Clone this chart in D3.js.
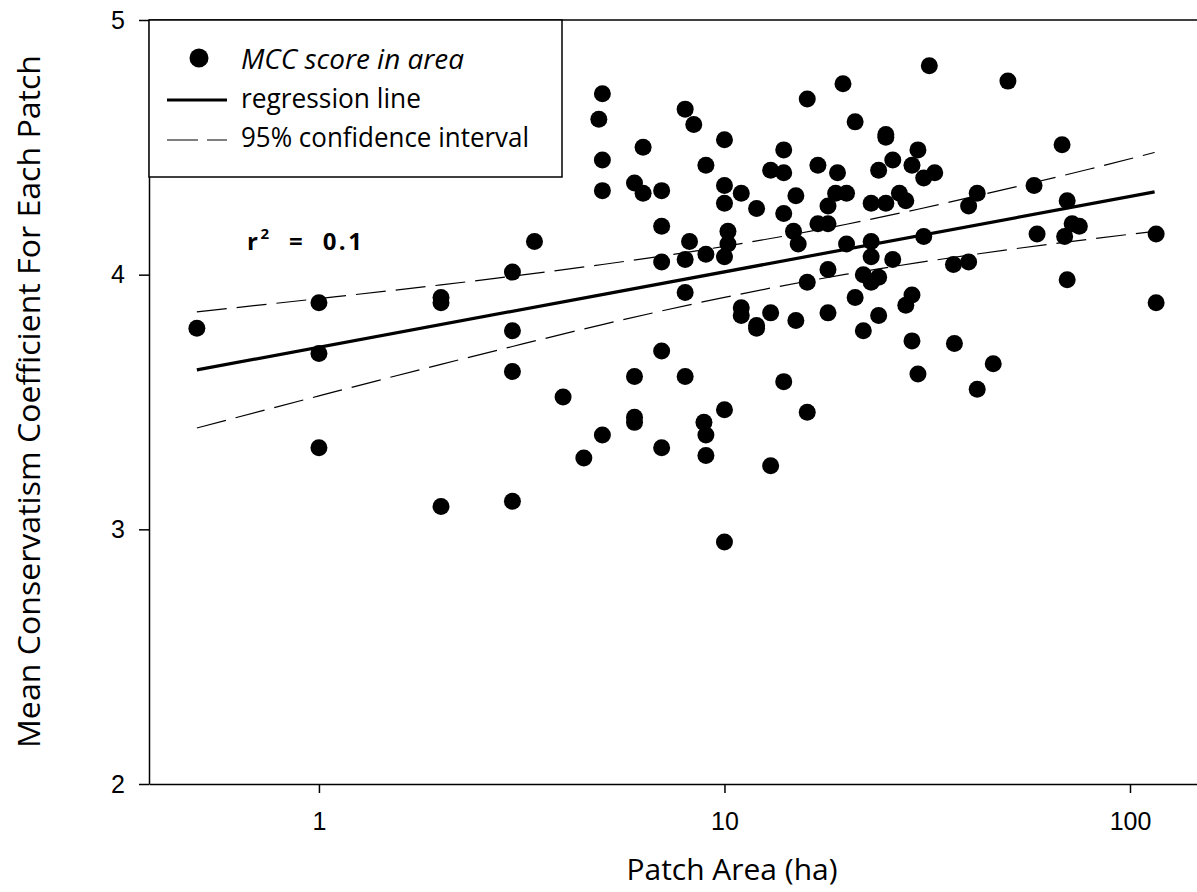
<!DOCTYPE html>
<html>
<head>
<meta charset="utf-8">
<script src="https://cdn.jsdelivr.net/npm/d3@7"></script>
<style>
  body { margin: 0; background: #fff; }
  .comic { font-family: "Comic Sans MS", "Open Sans", sans-serif; }
  .tick text { font-family: "Liberation Sans", Arial, sans-serif; }
</style>
</head>
<body>
<div id="chart"></div>
<script>
// patch area (ha) and mean conservatism coefficient
const areaHa = [0.5, 1, 1, 1, 2, 2, 2, 3, 3, 3, 3, 3.4, 4, 4.5, 4.9, 5, 5, 5, 5,
  6, 6, 6, 6, 6.3, 6.3, 7, 7, 7, 7, 7, 8, 8, 8, 8, 8.2, 8.4, 9, 9, 8.9, 9, 9,
  10, 10, 10, 10, 10, 10, 10.2, 10.2, 11, 11, 11, 12, 12, 12, 13, 13, 13,
  14, 14, 14, 14, 14.8, 15, 15, 15.2, 16, 16, 16, 17, 17, 18, 18, 18, 18,
  18.8, 19, 19.6, 20, 20, 21, 21, 22, 22, 23, 23, 23, 23, 24, 24, 24,
  25, 25, 25, 26, 26, 27, 28, 28, 29, 29, 29, 30, 30, 31, 31, 32, 33,
  36.7, 36.9, 40, 40, 42, 42, 46, 50, 58, 59, 68, 69, 70, 70, 72, 75, 116, 116];
const mccScore = [3.79, 3.89, 3.69, 3.32, 3.91, 3.89, 3.09, 4.01, 3.78, 3.62, 3.11, 4.13, 3.52, 3.28, 4.61, 4.71, 4.45, 4.33, 3.37,
  4.36, 3.60, 3.44, 3.42, 4.50, 4.32, 4.33, 4.19, 4.05, 3.70, 3.32, 4.65, 4.06, 3.93, 3.60, 4.13, 4.59, 4.43, 4.08, 3.42, 3.37, 3.29,
  4.53, 4.35, 4.28, 4.07, 3.47, 2.95, 4.17, 4.12, 4.32, 3.87, 3.84, 4.26, 3.80, 3.79, 4.41, 3.85, 3.25,
  4.49, 4.40, 4.24, 3.58, 4.17, 4.31, 3.82, 4.12, 4.69, 3.97, 3.46, 4.43, 4.20, 4.27, 4.20, 4.02, 3.85,
  4.32, 4.40, 4.75, 4.12, 4.32, 4.60, 3.91, 3.78, 4.00, 4.28, 4.13, 4.07, 3.97, 4.41, 3.99, 3.84,
  4.55, 4.54, 4.28, 4.45, 4.06, 4.32, 3.88, 4.29, 4.43, 3.92, 3.74, 4.49, 3.61, 4.15, 4.38, 4.82, 4.40,
  4.04, 3.73, 4.05, 4.27, 4.32, 3.55, 3.65, 4.76, 4.35, 4.16, 4.51, 4.15, 4.29, 3.98, 4.20, 4.19, 4.16, 3.89];

// regression line end points
const regX = [0.5, 115];
const regY = [3.626, 4.325];

// 95% confidence band, read at a few areas
const ciX = [0.5, 1, 2, 3, 5, 10, 20, 30, 50, 80, 115];
const ciUpper = [3.854, 3.906, 3.960, 3.994, 4.040, 4.111, 4.198, 4.257, 4.338, 4.416, 4.480];
const ciLower = [3.398, 3.524, 3.648, 3.718, 3.804, 3.911, 4.002, 4.047, 4.098, 4.140, 4.170];

const xTicks = [1, 10, 100];
const yTicks = [2, 3, 4, 5];

const width = 1197;
const height = 892;
const margin = { top: 20, right: 0, bottom: 108, left: 149 };

const svg = d3.select("#chart").append("svg")
  .attr("width", width)
  .attr("height", height);

const x = d3.scaleLog()
  .domain([0.381, 146.3])
  .range([margin.left, width - margin.right]);

const y = d3.scaleLinear()
  .domain([2, 5])
  .range([height - margin.bottom, margin.top]);

// axes
const xAxis = svg.append("g")
  .attr("transform", `translate(0,${height - margin.bottom})`)
  .call(d3.axisBottom(x).tickValues(xTicks).tickFormat(d3.format("d"))
    .tickSize(9).tickSizeOuter(0).tickPadding(19));

const yAxis = svg.append("g")
  .attr("transform", `translate(${margin.left},0)`)
  .call(d3.axisLeft(y).tickValues(yTicks).tickFormat(d3.format("d"))
    .tickSize(10).tickSizeOuter(0).tickPadding(14));

[xAxis, yAxis].forEach(g => {
  g.selectAll("path, line").attr("stroke", "#000").attr("stroke-width", 1.5);
  g.selectAll("text").attr("font-size", 25).attr("fill", "#000");
});

// top frame line
svg.append("line")
  .attr("x1", margin.left).attr("x2", width)
  .attr("y1", y(5)).attr("y2", y(5))
  .attr("stroke", "#000").attr("stroke-width", 1.5);

// confidence band
const ciLine = (vals) => d3.line()
  .x((d, i) => x(ciX[i]))
  .y(d => y(d))
  .curve(d3.curveMonotoneX)(vals);

[ciUpper, ciLower].forEach(vals => {
  svg.append("path")
    .attr("d", ciLine(vals))
    .attr("fill", "none")
    .attr("stroke", "#000")
    .attr("stroke-width", 1.2)
    .attr("stroke-dasharray", "30,10");
});

// regression line
svg.append("line")
  .attr("x1", x(regX[0])).attr("y1", y(regY[0]))
  .attr("x2", x(regX[1])).attr("y2", y(regY[1]))
  .attr("stroke", "#000")
  .attr("stroke-width", 3.2);

// points
svg.append("g")
  .selectAll("circle")
  .data(areaHa)
  .join("circle")
  .attr("cx", d => x(d))
  .attr("cy", (d, i) => y(mccScore[i]))
  .attr("r", 8.5)
  .attr("fill", "#000");

// legend
const legend = svg.append("g").attr("class", "comic");
legend.append("rect")
  .attr("x", margin.left).attr("y", margin.top)
  .attr("width", 413).attr("height", 157)
  .attr("fill", "#fff")
  .attr("stroke", "#000").attr("stroke-width", 1.5);

legend.append("circle")
  .attr("cx", 199).attr("cy", 58).attr("r", 9.5).attr("fill", "#000");
legend.append("line")
  .attr("x1", 167).attr("x2", 227).attr("y1", 100).attr("y2", 100)
  .attr("stroke", "#000").attr("stroke-width", 3.2);
legend.append("line")
  .attr("x1", 167).attr("x2", 227).attr("y1", 140).attr("y2", 140)
  .attr("stroke", "#000").attr("stroke-width", 1.2)
  .attr("stroke-dasharray", "31,9");

const legendItems = [
  { text: "MCC score in area", y: 69, len: 223, italic: true },
  { text: "regression line", y: 108, len: 180, italic: false },
  { text: "95% confidence interval", y: 147, len: 288, italic: false }
];
legend.selectAll("text.item")
  .data(legendItems)
  .join("text")
  .attr("class", "item")
  .attr("x", 241)
  .attr("y", d => d.y)
  .attr("font-size", 27)
  .attr("font-style", d => d.italic ? "italic" : "normal")
  .attr("textLength", d => d.len)
  .attr("lengthAdjust", "spacingAndGlyphs")
  .text(d => d.text);

// r squared note
const r2 = svg.append("text")
  .attr("class", "comic")
  .attr("x", 247).attr("y", 250)
  .attr("font-size", 24)
  .attr("font-weight", "bold")
  .attr("letter-spacing", 2.5);
r2.append("tspan").text("r");
r2.append("tspan").attr("font-size", 15).attr("dy", -11).text("2");
r2.append("tspan").attr("dy", 11).attr("xml:space", "preserve").text("  =  0.1");

// axis titles
svg.append("text")
  .attr("class", "comic")
  .attr("x", 732).attr("y", 880)
  .attr("text-anchor", "middle")
  .attr("font-size", 29)
  .attr("textLength", 211)
  .attr("lengthAdjust", "spacingAndGlyphs")
  .text("Patch Area (ha)");

svg.append("text")
  .attr("class", "comic")
  .attr("transform", "translate(40,401.5) rotate(-90)")
  .attr("text-anchor", "middle")
  .attr("font-size", 31)
  .attr("textLength", 693)
  .attr("lengthAdjust", "spacingAndGlyphs")
  .text("Mean Conservatism Coefficient For Each Patch");
</script>
</body>
</html>
